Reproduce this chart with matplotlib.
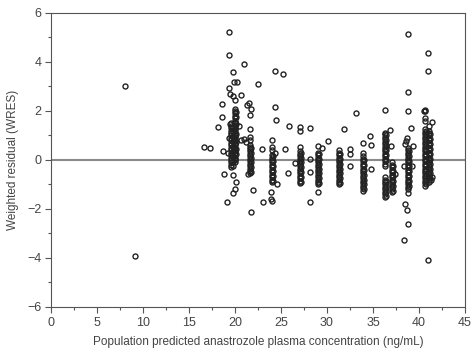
import matplotlib
matplotlib.use('Agg')
from matplotlib import pyplot as plt
import matplotlib.ticker as mticker

plt.rcParams['font.family'] = ['Liberation Sans', 'DejaVu Sans']

# scattered single observations (x = PRED, y = WRES)
scatter_x = [8.0, 9.1, 16.6, 17.3, 18.1, 18.55, 18.55, 18.7, 18.8, 19.1, 19.4, 19.4, 19.4, 19.5,
             19.8, 19.9, 20.25, 19.8, 20.0, 21.0, 20.6, 21.3, 21.55, 21.7, 21.6, 21.0, 20.6,
             20.1, 20.0, 19.8, 19.75, 21.45, 21.7, 22.0, 22.5, 22.9, 23.0, 23.9, 23.9, 24.0,
             24.4, 25.2, 24.3, 24.5, 24.4, 24.6, 25.4, 25.8, 25.9, 26.5, 28.1, 28.2, 28.1,
             28.2, 29.0, 29.5, 29.0, 30.1, 31.9, 32.5, 32.5, 32.5, 33.15, 33.95, 34.7, 34.8,
             34.75, 36.3, 36.85, 36.95, 37.4, 38.4, 38.5, 38.6, 38.75, 38.4, 38.5, 38.65,
             38.8, 38.8, 38.85, 38.85, 38.85, 39.1, 39.3, 39.2, 40.95, 40.95, 40.95, 40.5,
             40.7, 40.6, 41.4, 41.4, 41.35, 19.3, 19.5, 19.2, 20.4, 21.2]
scatter_y = [3.04, -3.93, 0.55, 0.5, 1.36, 2.28, 1.75, 0.38, -0.56, -1.7, 5.22, 4.27, 2.93, 2.7,
             3.6, 3.2, 3.17, 2.63, 2.45, 3.93, 2.66, 2.25, 2.32, 2.07, 1.84, 0.85, 0.82,
             -0.88, -1.19, -1.36, -0.6, -0.57, -2.13, -1.23, 3.11, 0.44, -1.7, -1.3, -1.61, -1.66,
             3.62, 3.5, 2.18, 1.62, 0.29, -0.98, 0.46, -0.52, 1.39, -0.14, 1.32, 0.04, -0.5,
             -1.7, 0.57, 0.48, -1.32, 0.78, 1.27, 0.44, 0.25, -0.23, 1.91, 0.68, 0.96, 0.61,
             -0.37, 2.05, 1.23, 0.57, -0.59, -3.25, 0.65, 0.79, 0.89, -0.23, -1.8, -2.05,
             -2.6, -1.34, 5.13, 2.77, 1.98, 1.32, 0.59, -0.23, 4.37, 3.63, -4.07, 2.0,
             2.0, 1.7, 1.57, -0.7, -0.82, 0.9, 1.45, 0.3, 1.4, 0.75]

# dense columns of observations at the nominal concentration levels
col_x = [19.6, 20.0, 21.6, 24.0, 27.05, 29.05, 31.3, 33.95, 36.3, 37.1, 38.85, 40.6, 41.1]
col_y = [
    [-0.3, -0.2, -0.1, 0.0, 0.1, 0.2, 0.3, 0.4, 0.5, 0.6, 0.7, 0.8, 0.9, 1.0, 1.1, 1.2, 1.3, 1.4, 1.5],
    [-0.1, 0.0, 0.1, 0.2, 0.3, 0.4, 0.5, 0.6, 0.7, 0.8, 0.9, 1.0, 1.1, 1.2, 1.3, 1.4, 1.5, 1.6, 1.7,
     1.8, 1.9, 2.0, 2.1, 0.05, 0.35, 0.65, 0.95, 1.25, 1.55],
    [-0.55, -0.45, -0.35, -0.25, -0.15, -0.05, 0.05, 0.15, 0.25, 0.35, 0.45, 0.55, 0.6, 0.8, 0.95, 1.25],
    [-0.9, -0.8, -0.7, -0.6, -0.5, -0.4, -0.3, -0.2, -0.1, 0.0, 0.1, 0.2, 0.4, 0.55, 0.8],
    [-0.95, -0.85, -0.75, -0.65, -0.55, -0.45, -0.35, -0.25, -0.15, -0.05, 0.05, 0.15, 0.25, 0.35, 0.55, 1.2, 1.34],
    [-1.0, -0.9, -0.8, -0.7, -0.6, -0.5, -0.4, -0.3, -0.2, -0.1, 0.0, 0.1, 0.2, 0.3],
    [-1.0, -0.9, -0.8, -0.7, -0.6, -0.5, -0.4, -0.3, -0.2, -0.1, 0.0, 0.1, 0.2, 0.3, 0.4],
    [-1.25, -1.15, -1.05, -0.95, -0.85, -0.75, -0.65, -0.55, -0.45, -0.35, -0.25, -0.15, -0.05, 0.05, 0.15, 0.3],
    [-1.5, -1.4, -1.3, -1.2, -1.1, -1.0, -0.9, -0.8, -0.7, -0.25, -0.15, -0.05, 0.05, 0.15, 0.25,
     0.35, 0.45, 0.55, 0.65, 0.75, 0.85, 0.95, 1.05, 1.1],
    [-1.3, -1.2, -1.1, -1.0, -0.9, -0.8, -0.7, -0.6, -0.5, -0.4, -0.3, -0.2, -0.1],
    [-1.2, -1.1, -1.0, -0.9, -0.8, -0.7, -0.6, -0.5, -0.4, -0.3, -0.2, -0.1, 0.0, 0.1, 0.2, 0.3, 0.4, 0.5],
    [-1.05, -0.95, -0.85, -0.75, -0.65, -0.55, -0.45, -0.35, -0.25, -0.15, -0.05, 0.05, 0.15, 0.25,
     0.35, 0.45, 0.55, 0.65, 0.75, 0.85, 0.95, 1.05, 1.15, 1.25, 1.6, 2.05],
    [-0.9, -0.8, -0.7, -0.6, -0.5, -0.4, -0.3, -0.2, -0.1, 0.0, 0.1, 0.2, 0.3, 0.4, 0.5, 0.6, 0.7,
     0.8, 0.9, 1.0, 1.1, 1.2, 1.4],
]

# second layer of observations, interleaved with the columns above
col2_x = [19.75, 20.15, 21.7, 24.1, 27.15, 29.15, 31.4, 34.05, 36.4, 37.2, 38.95, 40.8, 41.2]
col2_y = [
    [-0.25, -0.05, 0.15, 0.35, 0.55, 0.75, 0.95, 1.15, 1.35],
    [0.25, 0.45, 0.75, 1.05, 1.45, 1.75, 1.95],
    [-0.5, -0.3, -0.1, 0.1, 0.3, 0.5],
    [-0.85, -0.65, -0.45, -0.25, -0.05, 0.15],
    [-0.9, -0.7, -0.5, -0.3, -0.1, 0.1, 0.3],
    [-0.95, -0.75, -0.55, -0.35, -0.15, 0.05, 0.25],
    [-0.95, -0.75, -0.55, -0.35, -0.15, 0.05, 0.25],
    [-1.2, -1.0, -0.8, -0.6, -0.4, -0.2, 0.0],
    [-1.45, -1.25, -1.05, -0.85, 0.0, 0.2, 0.4, 0.6, 0.8, 1.0],
    [-1.25, -1.05, -0.85, -0.65, -0.45, -0.25],
    [-1.05, -0.85, -0.65, -0.45, -0.25, -0.05, 0.15, 0.35],
    [-1.0, -0.8, -0.6, -0.4, -0.2, 0.0, 0.2, 0.4, 0.6, 0.8, 1.0, 1.2],
    [-0.75, -0.55, -0.35, -0.15, 0.05, 0.25, 0.45, 0.65, 0.85, 1.05],
]


def main():
    fig = plt.figure(figsize=(4.74, 3.58), dpi=100)
    ax = fig.add_axes([0.1076, 0.1425, 0.8734, 0.8212])

    style = dict(linestyle='none', marker='o', mfc='none', mec='#222222', ms=3.6, mew=1.0)
    ax.axhline(0, color='#8a8a8a', linewidth=1.5, zorder=1)
    ax.plot(scatter_x, scatter_y, zorder=2, **style)
    for x, ys in zip(col_x + col2_x, col_y + col2_y):
        ax.plot([x] * len(ys), ys, zorder=2, **style)

    ax.set_xlim(0, 45)
    ax.set_ylim(-6, 6)
    ax.xaxis.set_major_locator(mticker.MultipleLocator(5))
    ax.xaxis.set_minor_locator(mticker.MultipleLocator(2.5))
    ax.yaxis.set_major_locator(mticker.MultipleLocator(2))
    ax.yaxis.set_minor_locator(mticker.MultipleLocator(1))
    ax.tick_params(which='major', direction='out', length=4, width=0.8, color='#555555',
                   labelsize=9, labelcolor='#444444', pad=3)
    ax.tick_params(which='minor', direction='out', length=2, width=0.8, color='#555555')
    for sp in ax.spines.values():
        sp.set_color('#555555')
        sp.set_linewidth(0.8)

    ax.set_xlabel('Population predicted anastrozole plasma concentration (ng/mL)',
                  fontsize=8.5, color='#444444', labelpad=5)
    ax.set_ylabel('Weighted residual (WRES)', fontsize=8.5, color='#444444', labelpad=6)

    fig.savefig('out.png', dpi=100)
    plt.close(fig)


if __name__ == '__main__':
    main()
